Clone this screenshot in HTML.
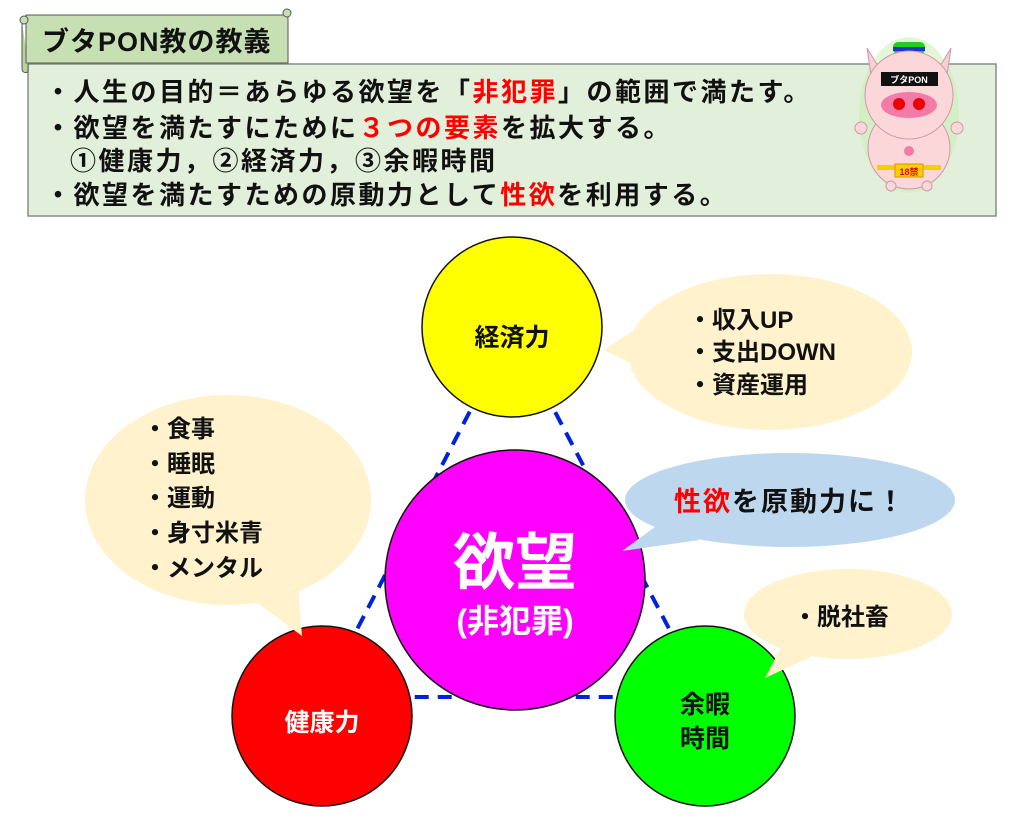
<!DOCTYPE html>
<html><head><meta charset="utf-8"><style>
body{margin:0;background:#fff;width:1024px;height:819px;overflow:hidden}
svg text{font-family:"Liberation Sans","Noto Sans CJK JP",sans-serif;font-weight:bold}
</style></head><body>
<svg width="1024" height="819" viewBox="0 0 1024 819" xmlns="http://www.w3.org/2000/svg">
<rect x="28" y="64" width="968" height="152" fill="#e2efda" stroke="#8a8a8a" stroke-width="1.5"/>
<path d="M22 22 L22 68 Q22 74 28 72 L28 64" fill="#b5d79e" stroke="#555" stroke-width="1"/>
<rect x="26" y="15" width="262" height="48" fill="#c6e0b4" stroke="#555" stroke-width="1"/>
<circle cx="287" cy="13" r="4" fill="#c6e0b4" stroke="#555"/>
<circle cx="24" cy="20" r="4" fill="#c6e0b4" stroke="#555"/>
<text x="42" y="51" font-size="27" fill="#111" letter-spacing="1">ブタPON教の教義</text>
<g font-size="26" fill="#111" letter-spacing="2.5">
<text x="45" y="101">・人生の目的＝あらゆる欲望を「<tspan fill="#f00">非犯罪</tspan>」の範囲で満たす。</text>
<text x="45" y="137">・欲望を満たすにために<tspan fill="#f00">３つの要素</tspan>を拡大する。</text>
<text x="70" y="170">①健康力，②経済力，③余暇時間</text>
<text x="45" y="204">・欲望を満たすための原動力として<tspan fill="#f00">性欲</tspan>を利用する。</text>
</g>
<g>
<ellipse cx="909" cy="115" rx="50" ry="78" fill="#c8f0b0" opacity="0.5"/>
<path d="M867 48 L885 78 L872 82Z M951 48 L933 78 L946 82Z" fill="#f9cfd6" stroke="#c9a"/>
<rect x="893" y="42" width="32" height="12" rx="5" fill="#22cc22"/>
<rect x="893" y="47" width="32" height="4" fill="#2233cc"/>
<circle cx="909" cy="148" r="41" fill="#fcd7da" stroke="#c9a"/>
<circle cx="909" cy="95" r="44" fill="#fcd7da" stroke="#c9a"/>
<rect x="881" y="72" width="57" height="14" fill="#111"/>
<text x="909" y="83" font-size="9" fill="#fff" text-anchor="middle">ブタPON</text>
<ellipse cx="909" cy="105" rx="28" ry="13" fill="#f47aa8"/>
<circle cx="899" cy="104" r="6" fill="#e00"/><circle cx="919" cy="104" r="6" fill="#e00"/>
<circle cx="861" cy="128" r="6" fill="#fcd7da" stroke="#c9a"/><circle cx="957" cy="128" r="6" fill="#fcd7da" stroke="#c9a"/>
<circle cx="909" cy="151" r="5" fill="#f47aa8"/>
<rect x="877" y="165" width="64" height="5" fill="#f5d000"/>
<rect x="895" y="164" width="28" height="13" fill="#ffd000" stroke="#c90"/>
<text x="909" y="175" font-size="9" fill="#e00" text-anchor="middle">18禁</text>
<circle cx="891" cy="186" r="5" fill="#fcd7da" stroke="#c9a"/><circle cx="927" cy="186" r="5" fill="#fcd7da" stroke="#c9a"/>
</g>
<path d="M512 330 L322 697 L705 697 Z" fill="none" stroke="#0022dd" stroke-width="4" stroke-dasharray="14 9"/>
<circle cx="512" cy="327" r="90" fill="#ffff00" stroke="#111" stroke-width="1.5"/>
<text x="512" y="346" font-size="25" fill="#111" text-anchor="middle">経済力</text>
<circle cx="322" cy="716" r="90" fill="#ff0000" stroke="#111" stroke-width="1.5"/>
<text x="322" y="731" font-size="25" fill="#fff" text-anchor="middle">健康力</text>
<circle cx="705" cy="716" r="90" fill="#00ff00" stroke="#111" stroke-width="1.5"/>
<text x="705" y="713" font-size="25" fill="#111" text-anchor="middle">余暇</text>
<text x="705" y="747" font-size="25" fill="#111" text-anchor="middle">時間</text>
<circle cx="515" cy="580" r="130" fill="#ff00ff" stroke="#111" stroke-width="1.5"/>
<text x="515" y="584" font-size="62" fill="#fff" text-anchor="middle">欲望</text>
<text x="515" y="632" font-size="32" fill="#fff" text-anchor="middle">(非犯罪)</text>
<g fill="#fff2cc">
<ellipse cx="770" cy="352" rx="142" ry="78"/>
<path d="M650 320 L604 350 L660 378Z"/>
<ellipse cx="228" cy="500" rx="143" ry="105"/>
<path d="M240 590 L302 636 L296 560Z"/>
<ellipse cx="848" cy="614" rx="104" ry="45"/>
<path d="M785 640 L765 678 L815 655Z"/>
</g>
<g fill="#bdd7ee">
<ellipse cx="790" cy="500" rx="165" ry="47"/>
<path d="M655 527 L622 551 L700 540Z"/>
</g>
<g font-size="24" fill="#111">
<text x="688" y="328">・収入UP</text>
<text x="688" y="360">・支出DOWN</text>
<text x="688" y="393">・資産運用</text>
<text x="143" y="437">・食事</text>
<text x="143" y="472">・睡眠</text>
<text x="143" y="506">・運動</text>
<text x="143" y="541">・身寸米青</text>
<text x="143" y="576">・メンタル</text>
<text x="793" y="625">・脱社畜</text>
<text x="674" y="511" font-size="27" letter-spacing="2"><tspan fill="#f00">性欲</tspan>を原動力に！</text>
</g>
</svg>
</body></html>
